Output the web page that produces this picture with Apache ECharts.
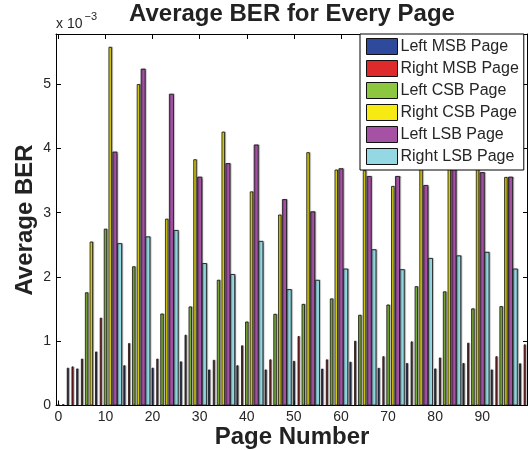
<!DOCTYPE html>
<html>
<head>
<meta charset="utf-8">
<script src="https://cdn.jsdelivr.net/npm/echarts@6/dist/echarts.min.js"></script>
<style>html,body{margin:0;padding:0;background:#fff;}#c{width:528px;height:450px;}</style>
</head>
<body>
<div id="c"></div>
<script>
// Page indices and average BER (x 10^-3) per page type
const leftMSBPages  = [0, 2, 4, 8, 14, 20, 26, 32, 38, 44, 50, 56, 62, 68, 74, 80, 86, 92, 98];
const leftMSB       = [0.02, 0.587, 0.576, 0.84, 0.625, 0.587, 0.685, 0.56, 0.625, 0.56, 0.693, 0.573, 0.68, 0.585, 0.66, 0.576, 0.66, 0.56, 0.655];
const rightMSBPages = [1, 3, 5, 9, 15, 21, 27, 33, 39, 45, 51, 57, 63, 69, 75, 81, 87, 93, 99];
const rightMSB      = [0.02, 0.607, 0.728, 1.366, 0.97, 0.728, 1.10, 0.71, 0.935, 0.717, 1.08, 0.717, 1.007, 0.766, 0.997, 0.746, 0.976, 0.766, 0.95];
const leftCSBPages  = [6, 10, 16, 22, 28, 34, 40, 46, 52, 58, 64, 70, 76, 82, 88, 94];
const leftCSB       = [1.76, 2.75, 2.165, 1.43, 1.54, 1.955, 1.305, 1.425, 1.58, 1.665, 1.41, 1.57, 1.855, 1.775, 1.51, 1.545];
const rightCSBPages = [7, 11, 17, 23, 29, 35, 41, 47, 53, 59, 65, 71, 77, 83, 89, 95];
const rightCSB      = [2.55, 5.58, 5.0, 2.905, 3.83, 4.26, 3.33, 2.97, 3.94, 3.67, 3.66, 3.415, 4.1, 4.0, 3.9, 3.555];
const leftLSBPages  = [12, 18, 24, 30, 36, 42, 48, 54, 60, 66, 72, 78, 84, 90, 96];
const leftLSB       = [3.95, 5.24, 4.85, 3.56, 3.77, 4.06, 3.21, 3.02, 3.69, 3.57, 3.57, 3.43, 3.8, 3.63, 3.56];
const rightLSBPages = [13, 19, 25, 31, 37, 43, 49, 55, 61, 67, 73, 79, 85, 91, 97];
const rightLSB      = [2.525, 2.63, 2.73, 2.215, 2.045, 2.56, 1.81, 1.955, 2.13, 2.43, 2.12, 2.295, 2.335, 2.39, 2.13];

const seriesNames = ['Left MSB Page', 'Right MSB Page', 'Left CSB Page', 'Right CSB Page', 'Left LSB Page', 'Right LSB Page'];
const yTicks = [0, 1, 2, 3, 4, 5];

const FONT = '"Liberation Sans", Arial, Helvetica, sans-serif';
const TXT = '#262626';

const groups = [
  { name: seriesNames[0], pages: leftMSBPages,  vals: leftMSB,  color: '#2f4a9c', axis: 0, w: 1.9 },
  { name: seriesNames[1], pages: rightMSBPages, vals: rightMSB, color: '#de2a2a', axis: 0, w: 1.9 },
  { name: seriesNames[2], pages: leftCSBPages,  vals: leftCSB,  color: '#8dc63f', axis: 1, w: 3.3 },
  { name: seriesNames[3], pages: rightCSBPages, vals: rightCSB, color: '#f6ea12', axis: 1, w: 3.3 },
  { name: seriesNames[4], pages: leftLSBPages,  vals: leftLSB,  color: '#a552a4', axis: 2, w: 4.9 },
  { name: seriesNames[5], pages: rightLSBPages, vals: rightLSB, color: '#93d8e2', axis: 2, w: 4.9 }
];

const xBase = {
  type: 'value', min: -0.5, max: 99.5, splitNumber: 10,
  axisLine: { show: true, onZero: false, lineStyle: { color: '#000', width: 1 } },
  axisTick: { show: true, inside: true, length: 5, lineStyle: { color: '#000' } },
  splitLine: { show: false }
};

const chart = echarts.init(document.getElementById('c'), null, { renderer: 'canvas' });
chart.setOption({
  animation: false,
  backgroundColor: '#fff',
  grid: { left: 56, right: 1, top: 34, bottom: 44.5, containLabel: false },
  xAxis: [
    Object.assign({}, xBase, { position: 'bottom',
      axisLabel: { show: true, fontSize: 14, color: TXT, fontFamily: FONT, margin: 5, showMinLabel: false, showMaxLabel: false } }),
    Object.assign({}, xBase, { position: 'top', axisLabel: { show: false } }),
    Object.assign({}, xBase, { show: false })
  ],
  yAxis: [
    { type: 'value', min: 0, max: 5.78, interval: 1, position: 'left',
      axisLine: { show: true, onZero: false, lineStyle: { color: '#000' } },
      axisTick: { show: true, inside: true, length: 5, lineStyle: { color: '#000' } },
      axisLabel: { show: true, fontSize: 14, color: TXT, fontFamily: FONT, margin: 5, showMaxLabel: false,
        formatter: v => (yTicks.indexOf(v) >= 0 ? String(v) : '') },
      splitLine: { show: false } },
    { type: 'value', min: 0, max: 5.78, interval: 1, position: 'right',
      axisLine: { show: true, onZero: false, lineStyle: { color: '#000' } },
      axisTick: { show: true, inside: true, length: 4, lineStyle: { color: '#000' } },
      axisLabel: { show: false },
      splitLine: { show: false } }
  ],
  legend: {
    data: seriesNames,
    orient: 'vertical', left: 360, top: 34,
    itemWidth: 31, itemHeight: 16, itemGap: 5,
    padding: [4, 5, 5, 6],
    backgroundColor: '#fff', borderColor: '#000', borderWidth: 1,
    icon: 'rect',
    itemStyle: { borderColor: '#111', borderWidth: 1, shadowBlur: 0, shadowOffsetX: 0, shadowColor: 'rgba(0,0,0,0)' },
    textStyle: { fontSize: 16, color: TXT, fontFamily: FONT, padding: [0, 0, 0, -2] }
  },
  series: groups.map(g => ({
    name: g.name, type: 'bar',
    xAxisIndex: g.axis, yAxisIndex: 0,
    barWidth: g.w, barGap: '-100%',
    data: g.pages.map((p, i) => [p, g.vals[i]]),
    itemStyle: { color: g.color, borderColor: '#111', borderWidth: 0.8,
      shadowColor: 'rgba(0,0,0,0.35)', shadowOffsetX: 1, shadowOffsetY: 0, shadowBlur: 1 }
  })),
  graphic: [
    { type: 'text', x: 292, y: 14, style: { text: 'Average BER for Every Page', font: 'bold 24px ' + FONT, fill: '#222', textAlign: 'center', textVerticalAlign: 'middle' } },
    { type: 'text', x: 292, y: 437, style: { text: 'Page Number', font: 'bold 24px ' + FONT, fill: '#222', textAlign: 'center', textVerticalAlign: 'middle' } },
    { type: 'text', x: 25, y: 220, rotation: Math.PI / 2, style: { text: 'Average BER', font: 'bold 24px ' + FONT, fill: '#222', textAlign: 'center', textVerticalAlign: 'middle' } },
    { type: 'text', x: 56, y: 24.5, style: { text: 'x 10', font: '14px ' + FONT, fill: TXT, textAlign: 'left', textVerticalAlign: 'middle' } },
    { type: 'text', x: 84.5, y: 16.5, style: { text: '\u22123', font: '11px ' + FONT, fill: TXT, textAlign: 'left', textVerticalAlign: 'middle' } }
  ]
});
</script>
</body>
</html>
